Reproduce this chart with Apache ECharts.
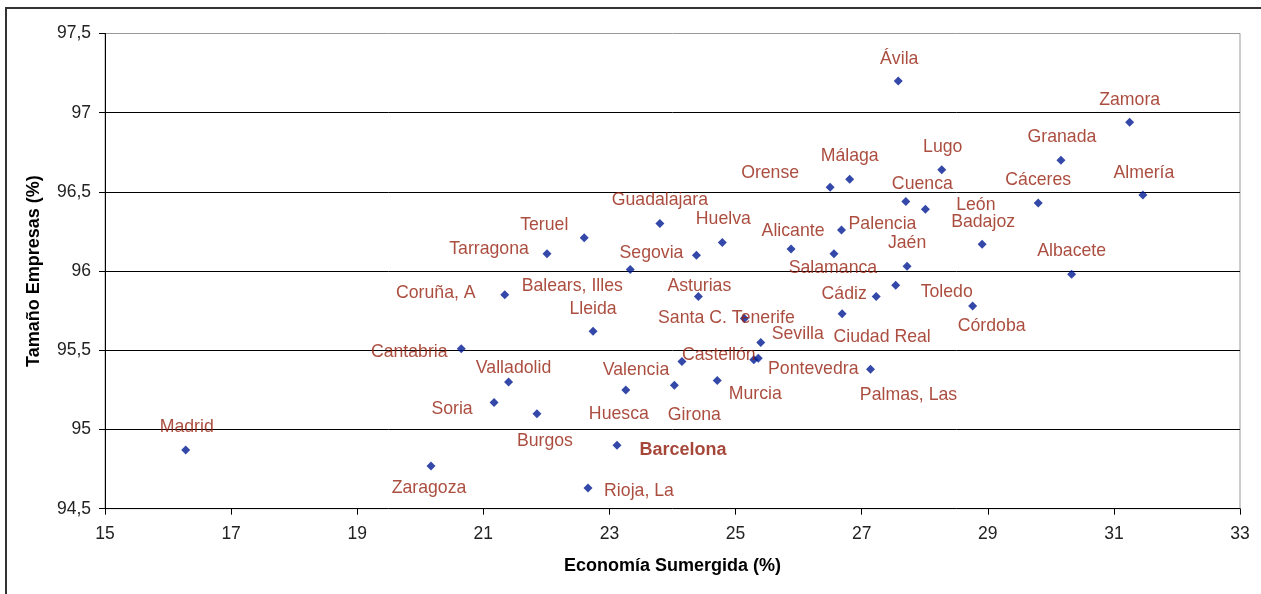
<!DOCTYPE html>
<html>
<head>
<meta charset="utf-8">
<script src="https://cdn.jsdelivr.net/npm/echarts@6/dist/echarts.min.js"></script>
<style>
html,body{margin:0;padding:0;background:#fff;}
#chart{width:1261px;height:594px;}
</style>
</head>
<body>
<div id="chart"></div>
<script>
// ---- data ----
const provinces = ['Ávila','Zamora','Granada','Lugo','Málaga','Orense','León','Cuenca','Cáceres','Almería',
  'Palencia','Salamanca','Badajoz','Jaén','Albacete','Toledo','Cádiz','Córdoba','Ciudad Real','Palmas, Las',
  'Asturias','Santa C. Tenerife','Sevilla','Valencia','Castellón','Pontevedra','Murcia','Girona','Huesca','Teruel',
  'Tarragona','Guadalajara','Balears, Illes','Huelva','Segovia','Alicante','Coruña, A','Lleida','Cantabria','Valladolid',
  'Soria','Burgos','Barcelona','Zaragoza','Rioja, La','Madrid'];
const economiaSumergida = [27.58,31.25,30.16,28.27,26.81,26.50,27.70,28.01,29.80,31.46,
  26.68,26.56,28.91,27.72,30.33,27.54,27.23,28.76,26.69,27.14,
  24.41,25.14,25.40,24.15,25.29,25.36,24.71,24.03,23.26,22.60,
  22.01,23.80,23.33,24.79,24.38,25.88,21.34,22.74,20.65,21.40,
  21.17,21.85,23.12,20.17,22.66,16.28];
const tamanoEmpresas = [97.20,96.94,96.70,96.64,96.58,96.53,96.44,96.39,96.43,96.48,
  96.26,96.11,96.17,96.03,95.98,95.91,95.84,95.78,95.73,95.38,
  95.84,95.70,95.55,95.43,95.44,95.45,95.31,95.28,95.25,96.21,
  96.11,96.30,96.01,96.18,96.10,96.14,95.85,95.62,95.51,95.30,
  95.17,95.10,94.90,94.77,94.63,94.87];
const xTicks = [15,17,19,21,23,25,27,29,31,33];

// ---- label placement (layout, px) ----
const labelOffsets = {
 'Ávila':[1,-23],'Zamora':[0,-23],'Granada':[1,-24],'Lugo':[1,-24],'Málaga':[0,-24],'Orense':[-60,-15],
 'León':[70,3],'Cuenca':[-3,-26],'Cáceres':[0,-24],'Almería':[1,-23],'Palencia':[41,-7],'Salamanca':[-1,13],
 'Badajoz':[1,-23],'Jaén':[0,-24],'Albacete':[0,-24],'Toledo':[51,6],'Cádiz':[-32,-3],'Córdoba':[19,19],
 'Ciudad Real':[40,22],'Palmas, Las':[38,25],'Asturias':[1,-11],'Santa C. Tenerife':[-18,-2],'Sevilla':[37,-9],
 'Valencia':[-46,8],'Castellón':[-35,-6],'Pontevedra':[55,10],'Murcia':[38,13],'Girona':[20,29],'Huesca':[-7,23],
 'Teruel':[-40,-14],'Tarragona':[-58,-6],'Guadalajara':[0,-24],'Balears, Illes':[-58,16],'Huelva':[1,-24],
 'Segovia':[-45,-3],'Alicante':[2,-19],'Coruña, A':[-69,-3],'Lleida':[0,-23],'Cantabria':[-52,2],
 'Valladolid':[5,-15],'Soria':[-42,6],'Burgos':[8,26],'Barcelona':[66,4],'Zaragoza':[-2,21],'Rioja, La':[51,2],
 'Madrid':[1,-24]
};
const LABEL_DY = 1;
const FONT = "'Liberation Sans', Arial, sans-serif";
const LABEL_COLOR = '#96200F';

const seriesData = provinces.map((name, i) => {
  const off = labelOffsets[name] || [0,-23];
  const item = {
    name: name,
    value: [economiaSumergida[i], tamanoEmpresas[i]],
    label: { offset: [off[0], off[1] + LABEL_DY] }
  };
  if (name === 'Barcelona') {
    item.label.fontWeight = 'bold';
    item.label.fontSize = 18;
    item.label.color = '#8E1808';
  }
  return item;
});

const fmt = v => String(v).replace('.', ',');

const chart = echarts.init(document.getElementById('chart'), null, {renderer:'canvas'});
chart.setOption({
  backgroundColor: '#fff',
  animation: false,
  graphic: [{
    type: 'rect', silent: true, z: -10,
    shape: {x: 6, y: 8, width: 1400, height: 800},
    style: {fill: 'none', stroke: '#333', lineWidth: 2}
  }],
  grid: {left: 105, right: 21, top: 33.5, bottom: 85.3, show: true, borderColor: '#9a9a9a', borderWidth: 1, backgroundColor: 'transparent'},
  xAxis: {
    type: 'value', min: 15, max: 33, interval: 1,
    name: 'Economía Sumergida (%)', nameLocation: 'middle', nameGap: 48,
    nameTextStyle: {fontFamily: FONT, fontSize: 18, fontWeight: 'bold', color: '#000'},
    axisLine: {show: true, lineStyle: {color: '#000', width: 1}},
    axisTick: {show: true, length: 6, lineStyle: {color: '#000'}, customValues: xTicks},
    axisLabel: {fontFamily: FONT, fontSize: 17.5, color: '#222', margin: 16, customValues: xTicks, formatter: fmt},
    splitLine: {show: false}
  },
  yAxis: {
    type: 'value', min: 94.5, max: 97.5, interval: 0.5,
    name: 'Tamaño Empresas (%)', nameLocation: 'middle', nameGap: 62,
    nameTextStyle: {fontFamily: FONT, fontSize: 18, fontWeight: 'bold', color: '#000'},
    axisLine: {show: true, lineStyle: {color: '#000', width: 1}},
    axisTick: {show: true, length: 6, lineStyle: {color: '#000'}},
    axisLabel: {fontFamily: FONT, fontSize: 17.5, color: '#222', margin: 14, formatter: fmt},
    splitLine: {show: true, showMinLine: false, showMaxLine: false, lineStyle: {color: '#000', width: 1}}
  },
  series: [{
    type: 'scatter',
    symbol: 'diamond',
    symbolSize: 9,
    itemStyle: {color: '#001A94'},
    label: {
      show: true, position: 'inside', align: 'center', verticalAlign: 'middle',
      formatter: p => p.name,
      fontFamily: FONT, fontSize: 17.7, color: LABEL_COLOR
    },
    emphasis: {disabled: true},
    data: seriesData
  }]
});
</script>
</body>
</html>
